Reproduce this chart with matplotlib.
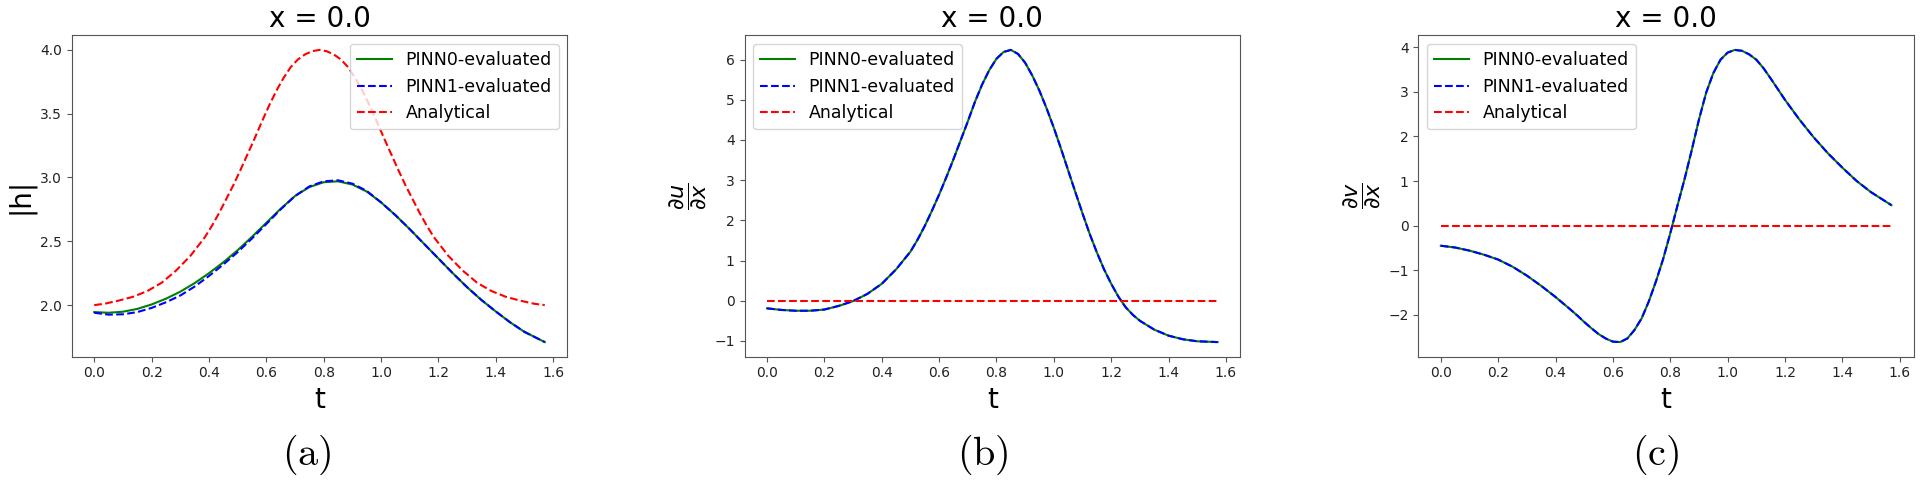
import numpy as np
import matplotlib
matplotlib.use("Agg")
import matplotlib.pyplot as plt

# (a) |h| at x = 0
t_h = [0.00, 0.05, 0.10, 0.15, 0.20, 0.25, 0.30, 0.35, 0.40, 0.45, 0.50,
       0.55, 0.60, 0.65, 0.70, 0.75, 0.80, 0.85, 0.90, 0.95, 1.00, 1.05,
       1.10, 1.15, 1.20, 1.25, 1.30, 1.35, 1.40, 1.45, 1.50, 1.5708]
h_pinn0 = [1.945, 1.94, 1.948, 1.97, 2.005, 2.05, 2.105, 2.172, 2.25, 2.335, 2.43,
           2.535, 2.645, 2.755, 2.855, 2.925, 2.963, 2.97, 2.945, 2.89, 2.805, 2.705,
           2.595, 2.48, 2.365, 2.25, 2.14, 2.04, 1.95, 1.865, 1.79, 1.71]
h_pinn1 = [1.94, 1.925, 1.928, 1.945, 1.978, 2.022, 2.075, 2.145, 2.228, 2.318, 2.415,
           2.522, 2.635, 2.75, 2.855, 2.93, 2.97, 2.978, 2.952, 2.895, 2.805, 2.705,
           2.595, 2.48, 2.365, 2.25, 2.14, 2.04, 1.95, 1.865, 1.79, 1.71]
t_h_exact = [0.000, 0.035, 0.085, 0.135, 0.185, 0.235, 0.285, 0.335, 0.385, 0.410,
             0.435, 0.460, 0.485, 0.510, 0.535, 0.560, 0.585, 0.610, 0.635, 0.660,
             0.685, 0.710, 0.735, 0.760, 0.785, 0.810, 0.835, 0.860, 0.885, 0.910,
             0.935, 0.960, 0.985, 1.010, 1.035, 1.060, 1.085, 1.110, 1.135, 1.160,
             1.185, 1.235, 1.285, 1.335, 1.385, 1.435, 1.485, 1.535, 1.5708]
h_exact = [2.00, 2.01, 2.035, 2.065, 2.11, 2.175, 2.27, 2.385, 2.53, 2.62,
           2.72, 2.83, 2.94, 3.06, 3.185, 3.31, 3.44, 3.565, 3.68, 3.78,
           3.865, 3.925, 3.965, 3.99, 4.00, 3.99, 3.965, 3.925, 3.865, 3.78,
           3.68, 3.565, 3.44, 3.31, 3.185, 3.06, 2.94, 2.83, 2.72, 2.62,
           2.53, 2.385, 2.27, 2.175, 2.11, 2.065, 2.035, 2.01, 2.00]

# (b) du/dx at x = 0
t_u = [0.00, 0.05, 0.10, 0.15, 0.20, 0.25, 0.30, 0.35, 0.40, 0.45,
       0.50, 0.525, 0.55, 0.575, 0.60, 0.625, 0.65, 0.675, 0.70, 0.725,
       0.75, 0.775, 0.80, 0.825, 0.85, 0.875, 0.90, 0.925, 0.95, 0.975,
       1.00, 1.025, 1.05, 1.075, 1.10, 1.125, 1.15, 1.175, 1.20, 1.225,
       1.25, 1.275, 1.30, 1.35, 1.40, 1.45, 1.50, 1.5708]
ux_pinn0 = [-0.19, -0.23, -0.25, -0.25, -0.22, -0.13, -0.01, 0.17, 0.42, 0.78,
            1.22, 1.52, 1.86, 2.24, 2.64, 3.07, 3.52, 3.99, 4.46, 4.95,
            5.38, 5.74, 6.02, 6.19, 6.24, 6.14, 5.92, 5.60, 5.22, 4.78,
            4.30, 3.78, 3.24, 2.70, 2.17, 1.66, 1.20, 0.78, 0.42, 0.10,
            -0.16, -0.35, -0.50, -0.72, -0.87, -0.96, -1.01, -1.03]
ux_pinn1 = [-0.19, -0.23, -0.25, -0.25, -0.22, -0.13, -0.01, 0.17, 0.42, 0.78,
            1.22, 1.52, 1.86, 2.24, 2.64, 3.07, 3.52, 3.99, 4.46, 4.95,
            5.38, 5.74, 6.02, 6.19, 6.24, 6.14, 5.92, 5.60, 5.22, 4.78,
            4.30, 3.78, 3.24, 2.70, 2.17, 1.66, 1.20, 0.78, 0.42, 0.10,
            -0.16, -0.35, -0.50, -0.72, -0.87, -0.96, -1.01, -1.03]
ux_exact = [0.0] * len(t_u)

# (c) dv/dx at x = 0
t_v = [0.00, 0.05, 0.10, 0.15, 0.20, 0.25, 0.30, 0.35, 0.40,
       0.45, 0.475, 0.50, 0.525, 0.55, 0.575, 0.60, 0.625, 0.65, 0.675,
       0.70, 0.725, 0.75, 0.775, 0.80, 0.825, 0.85, 0.875, 0.90, 0.925,
       0.95, 0.975, 1.00, 1.025, 1.05, 1.075, 1.10, 1.125, 1.15,
       1.20, 1.25, 1.30, 1.35, 1.40, 1.45, 1.50, 1.5708]
vx_pinn0 = [-0.45, -0.49, -0.56, -0.65, -0.76, -0.92, -1.12, -1.35, -1.60,
            -1.87, -2.01, -2.16, -2.30, -2.43, -2.53, -2.60, -2.61, -2.53, -2.34,
            -2.08, -1.70, -1.25, -0.75, -0.17, 0.45, 1.05, 1.70, 2.38, 2.98,
            3.42, 3.72, 3.88, 3.94, 3.92, 3.84, 3.72, 3.53, 3.30,
            2.82, 2.38, 1.98, 1.62, 1.30, 1.00, 0.75, 0.46]
vx_pinn1 = [-0.45, -0.49, -0.56, -0.65, -0.76, -0.92, -1.12, -1.35, -1.60,
            -1.87, -2.01, -2.16, -2.30, -2.43, -2.53, -2.60, -2.61, -2.53, -2.34,
            -2.08, -1.70, -1.25, -0.75, -0.17, 0.45, 1.05, 1.70, 2.38, 2.98,
            3.42, 3.72, 3.88, 3.94, 3.92, 3.84, 3.72, 3.53, 3.30,
            2.82, 2.38, 1.98, 1.62, 1.30, 1.00, 0.75, 0.46]
vx_exact = [0.0] * len(t_v)

panels = [
    (t_h, h_pinn0, h_pinn1, t_h_exact, h_exact, "|h|", 20, "upper right", "(a)", 307),
    (t_u, ux_pinn0, ux_pinn1, t_u, ux_exact, r"$\dfrac{\partial u}{\partial x}$", 16,
     "upper left", "(b)", 983),
    (t_v, vx_pinn0, vx_pinn1, t_v, vx_exact, r"$\dfrac{\partial v}{\partial x}$", 16,
     "upper left", "(c)", 1656),
]
lefts = [71.7, 744.5, 1418.3]

W, H = 1920, 483
fig = plt.figure(figsize=(W / 100, H / 100), dpi=100)

for (tt, p0, p1, te, ex, ylab, ysize, loc, tag, tagx), left in zip(panels, lefts):
    ax = fig.add_axes([left / W, 1 - 356.7 / H, 495.6 / W, 321.4 / H])
    ax.plot(tt, p0, color="g", lw=1.5, label="PINN0-evaluated")
    ax.plot(tt, p1, "b--", lw=1.5, label="PINN1-evaluated")
    ax.plot(te, ex, "r--", lw=1.5, label="Analytical")
    ax.set_xticks(np.arange(0, 1.61, 0.2))
    ax.set_title("x = 0.0", fontsize=20)
    ax.set_xlabel("t", fontsize=20)
    ax.set_ylabel(ylab, fontsize=ysize)
    ax.tick_params(labelsize=10, color="#555555", labelcolor="#222222")
    for s in ax.spines.values():
        s.set_color("#555555")
    ax.legend(loc=loc, fontsize=12.5)
    fig.text(tagx / W, 1 - 455 / H, r"$\mathrm{" + tag + "}$", fontsize=29,
             ha="center", va="center", math_fontfamily="cm")

fig.savefig("out.png", dpi=100)
